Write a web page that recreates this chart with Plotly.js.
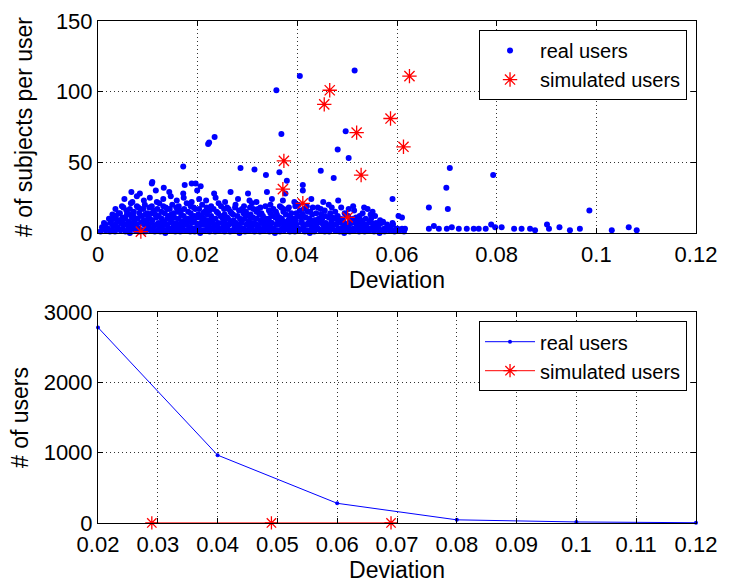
<!DOCTYPE html>
<html>
<head>
<meta charset="utf-8">
<script src="https://cdn.plot.ly/plotly-3.0.1.min.js"></script>
<style>html,body{margin:0;padding:0;background:#fff}#chart{width:729px;height:587px}</style>
</head>
<body>
<div id="chart"></div>
<script>
// ---- Top panel: real users (deviation, # subjects) ----
const realRowA = [[0.0005,1],[0.0015,2],[0.0024,1],[0.0034,1],[0.0045,2],[0.0055,1],[0.0064,0],[0.0075,2],[0.0084,1],[0.0095,1],[0.0105,2],[0.0114,1],[0.0125,1],[0.0135,0],[0.0144,2],[0.0155,1],[0.0165,1],[0.0174,2],[0.0185,1],[0.0194,1],[0.0205,0],[0.0215,2],[0.0224,1],[0.0235,1],[0.0245,2],[0.0254,1],[0.0265,1],[0.0275,2],[0.0284,0],[0.0295,1],[0.0305,2],[0.0314,1],[0.0325,1],[0.0335,2],[0.0344,1],[0.0355,0],[0.0365,1],[0.0374,2],[0.0385,1],[0.0395,1],[0.0404,2],[0.0415,1],[0.0425,0],[0.0434,1],[0.0445,2],[0.0455,1],[0.0464,1],[0.0475,2],[0.0485,1],[0.0494,0],[0.0505,1],[0.0515,2],[0.0524,1],[0.0535,1],[0.0545,2],[0.0554,1],[0.0565,0],[0.0575,1],[0.0584,2],[0.0595,1],[0.0605,2],[0.0614,1]];
const realRowA2 = [[0.001,3],[0.002,3],[0.0029,2],[0.0039,3],[0.005,3],[0.006,2],[0.0069,3],[0.008,3],[0.009,2],[0.0099,3],[0.011,3],[0.012,2],[0.0129,3],[0.014,3],[0.015,2],[0.0159,3],[0.017,3],[0.018,2],[0.0189,3],[0.02,3],[0.021,2],[0.0219,3],[0.023,3],[0.024,2],[0.0249,3],[0.026,3],[0.027,2],[0.0279,3],[0.029,3],[0.03,2],[0.0309,3],[0.032,3],[0.033,2],[0.0339,3],[0.035,3],[0.036,2],[0.0369,3],[0.038,3],[0.039,2],[0.0399,3],[0.041,3],[0.042,2],[0.0429,3],[0.044,3],[0.045,2],[0.0459,3],[0.047,3],[0.048,2],[0.0489,3],[0.05,3],[0.051,2],[0.0519,3],[0.053,3],[0.054,2],[0.0549,3],[0.056,3],[0.057,2],[0.058,3],[0.059,2],[0.0601,3],[0.061,3]];
const realRowB = [[0.0008,4],[0.0019,3],[0.003,5],[0.004,4],[0.0051,6],[0.0062,4],[0.0071,5],[0.0082,3],[0.0093,6],[0.0102,4],[0.0113,5],[0.0124,4],[0.0133,6],[0.0144,3],[0.0152,5],[0.0163,4],[0.0172,6],[0.0183,4],[0.0194,3],[0.0203,5],[0.0212,6],[0.0223,4],[0.0234,5],[0.0243,3],[0.0252,4],[0.0263,6],[0.0274,5],[0.0283,4],[0.0292,3],[0.0303,5],[0.0314,6],[0.0322,4],[0.0333,4],[0.0344,5],[0.0353,3],[0.0362,6],[0.0373,4],[0.0384,5],[0.0393,4],[0.0402,3],[0.0413,5],[0.0424,6],[0.0433,4],[0.0442,3],[0.0453,5],[0.0464,4],[0.0472,6],[0.0483,3],[0.0494,4],[0.0503,5],[0.0512,3],[0.0523,4],[0.0534,5],[0.0543,3],[0.0552,4],[0.0563,5],[0.0574,3],[0.0586,4],[0.0598,3]];
const realRowB2 = [[0.0015,6],[0.0025,7],[0.0035,6],[0.0046,7],[0.0056,6],[0.0066,7],[0.0077,6],[0.0088,7],[0.0098,6],[0.0108,7],[0.0118,6],[0.0128,7],[0.0139,6],[0.0149,7],[0.0158,6],[0.0168,7],[0.0178,6],[0.0188,7],[0.0199,6],[0.0208,7],[0.0218,6],[0.0228,7],[0.0239,6],[0.0248,7],[0.0258,6],[0.0268,7],[0.0279,6],[0.0288,7],[0.0298,6],[0.0308,7],[0.0318,6],[0.0328,7],[0.0338,6],[0.0348,7],[0.0358,6],[0.0368,7],[0.0378,6],[0.0389,7],[0.0398,6],[0.0408,7],[0.0418,6],[0.0428,7],[0.0438,6],[0.0448,7],[0.0458,6],[0.0468,7],[0.0478,6],[0.0488,7],[0.0498,6],[0.0509,7],[0.0519,6],[0.0529,7],[0.0539,6],[0.0549,7],[0.0559,6],[0.0569,7],[0.058,6],[0.0592,6]];
const realRowC = [[0.0012,7],[0.0026,8],[0.0038,9],[0.0049,7],[0.0061,8],[0.0073,9],[0.0086,7],[0.0097,8],[0.0109,9],[0.0121,7],[0.0133,8],[0.0146,9],[0.0157,7],[0.0169,8],[0.0181,9],[0.0193,8],[0.0206,7],[0.0218,9],[0.0229,8],[0.0241,7],[0.0254,9],[0.0266,8],[0.0277,7],[0.0289,9],[0.0302,8],[0.0313,7],[0.0326,9],[0.0338,8],[0.0349,7],[0.0361,9],[0.0374,8],[0.0386,7],[0.0397,9],[0.0409,8],[0.0422,7],[0.0434,9],[0.0446,8],[0.0457,7],[0.0469,9],[0.0482,8],[0.0494,7],[0.0506,9],[0.0518,8],[0.0531,7],[0.0545,8],[0.0558,7],[0.0572,8],[0.0591,7]];
const realRowC2 = [[0.0031,10],[0.0043,9],[0.0055,10],[0.0068,11],[0.008,10],[0.0092,9],[0.0104,10],[0.0117,11],[0.0139,10],[0.0151,11],[0.0162,10],[0.0175,9],[0.0187,10],[0.0199,11],[0.0212,10],[0.0225,9],[0.0236,10],[0.0249,11],[0.0261,10],[0.0272,9],[0.0294,10],[0.0306,11],[0.0318,10],[0.0331,9],[0.0343,10],[0.0356,11],[0.0369,10],[0.0382,9],[0.0395,10],[0.0408,11],[0.0424,10],[0.0437,9],[0.045,10],[0.0463,11],[0.0477,10],[0.0492,9],[0.0512,10],[0.0527,9],[0.0548,10],[0.0566,9]];
const realRowD = [[0.0022,10],[0.0036,12],[0.0049,11],[0.0063,13],[0.0076,10],[0.0088,12],[0.0101,11],[0.0115,13],[0.0128,10],[0.0141,12],[0.0153,11],[0.0167,13],[0.018,10],[0.0193,12],[0.0207,11],[0.0219,13],[0.0232,10],[0.0246,12],[0.0259,11],[0.0271,13],[0.0285,10],[0.0298,12],[0.0311,11],[0.0324,13],[0.0337,10],[0.0351,12],[0.0364,11],[0.0377,13],[0.039,10],[0.0403,12],[0.0417,11],[0.043,13],[0.0443,10],[0.0456,12],[0.0471,11],[0.0487,10],[0.0502,12],[0.0518,11],[0.0537,10],[0.0556,12],[0.0603,12],[0.061,11]];
const realRowD2 = [[0.0029,13],[0.0044,14],[0.0058,13],[0.0071,12],[0.0083,14],[0.0095,13],[0.0108,14],[0.0122,12],[0.0134,14],[0.0147,13],[0.0159,15],[0.0172,12],[0.0186,14],[0.0201,13],[0.0214,15],[0.0227,12],[0.0241,14],[0.0254,13],[0.0266,15],[0.028,12],[0.0292,14],[0.0306,13],[0.0318,15],[0.0331,12],[0.0346,14],[0.0359,13],[0.0372,15],[0.0384,12],[0.0398,14],[0.0411,13],[0.0426,15],[0.0448,13],[0.0466,14],[0.0481,12],[0.0497,13],[0.0525,12],[0.0547,13]];
const realRowE = [[0.0041,14],[0.0057,16],[0.0072,15],[0.0085,17],[0.0099,14],[0.0112,16],[0.0127,15],[0.0139,17],[0.0152,14],[0.0166,16],[0.0181,15],[0.0195,17],[0.0211,14],[0.0224,16],[0.0238,15],[0.0253,17],[0.0268,14],[0.0283,16],[0.0297,15],[0.0312,17],[0.0328,14],[0.0343,16],[0.0357,15],[0.0372,17],[0.0388,14],[0.0405,16],[0.0421,15],[0.0438,14],[0.0455,16],[0.0476,15],[0.0495,14],[0.0514,16],[0.0531,14],[0.0551,15]];
const realRowE2 = [[0.0035,17],[0.0051,18],[0.0064,17],[0.0078,19],[0.0091,17],[0.0103,18],[0.0119,17],[0.0131,19],[0.0144,17],[0.0157,18],[0.0173,17],[0.0186,19],[0.0203,17],[0.0218,18],[0.0232,17],[0.0247,19],[0.0262,17],[0.0275,18],[0.0289,17],[0.0305,18],[0.0321,17],[0.0336,19],[0.0352,17],[0.0368,18],[0.0381,17],[0.0396,19],[0.0413,17],[0.0431,18],[0.0447,17],[0.0469,18],[0.0503,17],[0.0541,17]];
const realRowF = [[0.0048,19],[0.0066,21],[0.0081,18],[0.0094,20],[0.0108,19],[0.0123,21],[0.0136,18],[0.0149,20],[0.0162,19],[0.0178,21],[0.0192,18],[0.0209,20],[0.0227,19],[0.0242,21],[0.0259,18],[0.0276,20],[0.0293,19],[0.0309,21],[0.0326,18],[0.0346,20],[0.0365,19],[0.0383,18],[0.0402,20],[0.0419,19],[0.0441,18],[0.0463,20],[0.0488,18],[0.0512,19],[0.0534,18]];
const realRowG = [[0.0053,24],[0.0069,22],[0.0078,26],[0.0092,23],[0.0104,25],[0.0118,22],[0.0131,24],[0.0146,26],[0.0158,23],[0.0172,25],[0.0188,22],[0.0203,24],[0.0217,23],[0.0236,25],[0.0255,22],[0.0281,24],[0.0304,23],[0.0318,22],[0.0349,24],[0.0371,23],[0.0394,22],[0.0428,24],[0.0452,22],[0.0482,23]];
const realRowH = [[0.0067,29],[0.0084,28],[0.0116,30],[0.0143,29],[0.0171,28],[0.0199,30],[0.0233,28],[0.0266,29],[0.0301,28],[0.0339,29],[0.0376,28],[0.0411,30]];
const realOutliers = [[0.0405,111],[0.0515,115],[0.0358,101],[0.0368,70],[0.0497,72],[0.0481,59],[0.0503,53],[0.0223,64],[0.0221,63],[0.0234,68],[0.0171,47],[0.0286,46],[0.0314,45],[0.0337,41],[0.0364,43],[0.0379,37],[0.0411,34],[0.0447,44],[0.0473,39],[0.0109,36],[0.0591,24],[0.0108,35],[0.0132,32],[0.0174,34],[0.0188,35],[0.0196,35],[0.0206,33]];
const realTail = [[0.0706,46],[0.0699,32],[0.0702,17],[0.0664,18],[0.0793,41],[0.0986,16],[0.0616,3],[0.0664,3],[0.0674,5],[0.0684,3],[0.070,3],[0.071,4],[0.0724,3],[0.074,3],[0.0754,3],[0.0764,3],[0.0778,3],[0.0789,6],[0.0797,4],[0.081,4],[0.0835,3],[0.085,3],[0.0867,3],[0.0877,2],[0.0901,6],[0.0905,3],[0.0926,4],[0.0947,2],[0.0967,3],[0.1031,2],[0.1065,4],[0.1081,2]];

// ---- Top panel: simulated users ----
const simX = [0.0086,0.0501,0.0411,0.0371,0.0528,0.0373,0.0613,0.0519,0.0587,0.0454,0.0465,0.0625];
const simY = [1,11,21,31,41,51,61,71,81,91,101,111];

// ---- Bottom panel: # of users per deviation bin ----
const binX = [0.02,0.04,0.06,0.08,0.10,0.12];
const binReal = [2780,965,280,45,15,4];
const binSimX = [0.029,0.049,0.069];
const binSim = [1,1,1];

const realAll = [].concat(realRowA, realRowA2, realRowB, realRowB2, realRowC, realRowC2, realRowD, realRowD2,
  realRowE, realRowE2, realRowF, realRowG, realRowH, realOutliers, realTail);

const FONT = 'Liberation Sans, Arial, Helvetica, sans-serif';
const traces = [
  {x: realAll.map(p=>p[0]), y: realAll.map(p=>p[1]), type:'scatter', mode:'markers', name:'real users',
   marker:{color:'#0000ff', size:6}, xaxis:'x', yaxis:'y', cliponaxis:false, legend:'legend'},
  {x: simX, y: simY, type:'scatter', mode:'markers', name:'simulated users',
   marker:{color:'#ff0000', size:12, symbol:'asterisk-open', line:{color:'#ff0000', width:1.3}}, xaxis:'x', yaxis:'y', cliponaxis:false, legend:'legend'},
  {x: binX, y: binReal, type:'scatter', mode:'lines+markers', name:'real users',
   line:{color:'#0000ff', width:1}, marker:{color:'#0000ff', size:4}, xaxis:'x2', yaxis:'y2', cliponaxis:false, legend:'legend2'},
  {x: binSimX, y: binSim, type:'scatter', mode:'lines+markers', name:'simulated users',
   line:{color:'#ff0000', width:1}, marker:{color:'#ff0000', size:11, symbol:'asterisk-open', line:{color:'#ff0000', width:1.3}}, xaxis:'x2', yaxis:'y2', cliponaxis:false, legend:'legend2'}
];

const axBase = {showline:true, linecolor:'#000', linewidth:1, mirror:'ticks', ticks:'inside', ticklen:5, tickcolor:'#000',
  showgrid:true, gridcolor:'#333', griddash:'1px,3px', gridwidth:1, zeroline:false, tickfont:{family:FONT, size:22, color:'#000'}};

const layout = {
  width:729, height:587, paper_bgcolor:'#fff', plot_bgcolor:'#fff', showlegend:true,
  margin:{l:98, r:33, t:21, b:64},
  font:{family:FONT, color:'#000'},
  xaxis: Object.assign({}, axBase, {domain:[0,1], anchor:'y', range:[0,0.12], dtick:0.02, tick0:0,
    ticklabelstandoff:2, title:{text:'Deviation', font:{family:FONT, size:23}, standoff:0}}),
  yaxis: Object.assign({}, axBase, {domain:[0.5777,1], anchor:'x', range:[0,150], dtick:50, tick0:0,
    title:{text:'# of subjects per user', font:{family:FONT, size:23}, standoff:16}}),
  xaxis2: Object.assign({}, axBase, {domain:[0,1], anchor:'y2', range:[0.02,0.12], dtick:0.01, tick0:0.02,
    ticklabelstandoff:2, title:{text:'Deviation', font:{family:FONT, size:23}, standoff:0}}),
  yaxis2: Object.assign({}, axBase, {domain:[0,0.4203], anchor:'x2', range:[0,3000], dtick:1000, tick0:0,
    title:{text:'# of users', font:{family:FONT, size:23}, standoff:8}}),
  legend:{x:0.985, y:0.982, xanchor:'right', yanchor:'top', bgcolor:'#fff', bordercolor:'#000', borderwidth:1,
    font:{family:FONT, size:20}, tracegroupgap:0, itemwidth:50},
  legend2:{x:0.985, y:0.402, xanchor:'right', yanchor:'top', bgcolor:'#fff', bordercolor:'#000', borderwidth:1,
    font:{family:FONT, size:20}, tracegroupgap:0, itemwidth:50}
};

Plotly.newPlot('chart', traces, layout, {displayModeBar:false, staticPlot:true});
</script>
</body>
</html>
